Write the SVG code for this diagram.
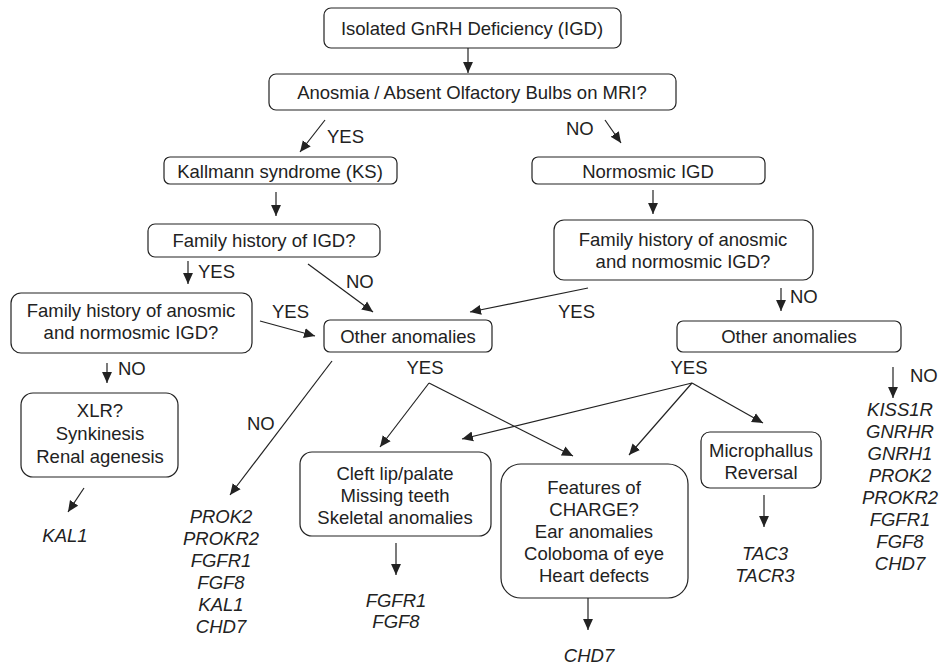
<svg xmlns="http://www.w3.org/2000/svg" width="939" height="666" viewBox="0 0 939 666">
<defs>
<style>
.box{fill:#fff;stroke:#222;stroke-width:1.2}
.t{font-family:"Liberation Sans",Arial,sans-serif;font-size:18.5px;fill:#222;text-anchor:middle}
.l{font-family:"Liberation Sans",Arial,sans-serif;font-size:18.5px;fill:#222}
.g{font-family:"Liberation Sans",Arial,sans-serif;font-size:18.5px;font-style:italic;fill:#222;text-anchor:middle}
.c{stroke:#222;stroke-width:1.2;fill:none;marker-end:url(#ah)}
</style>
<marker id="ah" markerUnits="userSpaceOnUse" markerWidth="11" markerHeight="11" refX="10" refY="5" orient="auto" viewBox="0 0 10 10">
<path d="M0,0.5 L10,5 L0,9.5 z" fill="#222"/>
</marker>
</defs>
<rect width="939" height="666" fill="#fff"/>

<g id="connectors">
<line class="c" x1="468" y1="48" x2="468" y2="73"/>
<line class="c" x1="325" y1="120" x2="300" y2="152"/>
<line class="c" x1="605" y1="120" x2="621" y2="143"/>
<line class="c" x1="276" y1="192" x2="276" y2="216"/>
<line class="c" x1="653" y1="190" x2="653" y2="214"/>
<line class="c" x1="188" y1="261" x2="188" y2="284"/>
<line class="c" x1="308" y1="264" x2="373" y2="312"/>
<line class="c" x1="588" y1="288" x2="470" y2="312"/>
<line class="c" x1="781" y1="288" x2="781" y2="311"/>
<line class="c" x1="260" y1="321" x2="315" y2="336"/>
<line class="c" x1="107" y1="363" x2="107" y2="383"/>
<line class="c" x1="332" y1="361" x2="230" y2="495"/>
<line class="c" x1="429" y1="383" x2="380" y2="447"/>
<line class="c" x1="429" y1="383" x2="573" y2="456"/>
<line class="c" x1="692" y1="383" x2="462" y2="439"/>
<line class="c" x1="692" y1="383" x2="629" y2="455"/>
<line class="c" x1="692" y1="383" x2="763" y2="423"/>
<line class="c" x1="893" y1="367" x2="893" y2="398"/>
<line class="c" x1="84" y1="488" x2="68" y2="512"/>
<line class="c" x1="396" y1="543" x2="396" y2="575"/>
<line class="c" x1="764" y1="495" x2="764" y2="527"/>
<line class="c" x1="588" y1="598" x2="588" y2="630"/>
</g>

<g id="labels">
<text class="l" x="327" y="143">YES</text>
<text class="l" x="566" y="135">NO</text>
<text class="l" x="198" y="278">YES</text>
<text class="l" x="346" y="288">NO</text>
<text class="l" x="558" y="318">YES</text>
<text class="l" x="790" y="303">NO</text>
<text class="l" x="272" y="318">YES</text>
<text class="l" x="118" y="375">NO</text>
<text class="l" x="247" y="430">NO</text>
<text class="t" x="425" y="374">YES</text>
<text class="t" x="689" y="374">YES</text>
<text class="l" x="910" y="382">NO</text>
</g>

<g id="n-igd">
<rect class="box" x="324" y="8" width="297" height="40" rx="7"/>
<text class="t" x="472" y="35">Isolated GnRH Deficiency (IGD)</text>
</g>
<g id="n-anosmia">
<rect class="box" x="269" y="74" width="407" height="36" rx="7"/>
<text class="t" x="472" y="99">Anosmia / Absent Olfactory Bulbs on MRI?</text>
</g>
<g id="n-ks">
<rect class="box" x="164" y="157" width="233" height="27" rx="6"/>
<text class="t" x="280" y="178">Kallmann syndrome (KS)</text>
</g>
<g id="n-normosmic">
<rect class="box" x="532" y="157" width="233" height="27" rx="6"/>
<text class="t" x="648" y="178">Normosmic IGD</text>
</g>
<g id="n-famhist-ks">
<rect class="box" x="148" y="224" width="232" height="33" rx="7"/>
<text class="t" x="264" y="247">Family history of IGD?</text>
</g>
<g id="n-famhist-right">
<rect class="box" x="554" y="220" width="259" height="60" rx="10"/>
<text class="t" x="683" y="246">Family history of anosmic</text>
<text class="t" x="683" y="268">and normosmic IGD?</text>
</g>
<g id="n-famhist-left">
<rect class="box" x="11" y="293" width="241" height="60" rx="10"/>
<text class="t" x="131" y="317">Family history of anosmic</text>
<text class="t" x="131" y="339">and normosmic IGD?</text>
</g>
<g id="n-other-left">
<rect class="box" x="324" y="320" width="168" height="32" rx="6"/>
<text class="t" x="408" y="343">Other anomalies</text>
</g>
<g id="n-other-right">
<rect class="box" x="677" y="321" width="224" height="31" rx="6"/>
<text class="t" x="789" y="343">Other anomalies</text>
</g>
<g id="n-xlr">
<rect class="box" x="21" y="393" width="157" height="84" rx="12"/>
<text class="t" x="100" y="417">XLR?</text>
<text class="t" x="100" y="440">Synkinesis</text>
<text class="t" x="100" y="463">Renal agenesis</text>
</g>
<g id="n-cleft">
<rect class="box" x="300" y="452" width="191" height="84" rx="12"/>
<text class="t" x="395" y="480">Cleft lip/palate</text>
<text class="t" x="395" y="502">Missing teeth</text>
<text class="t" x="395" y="524">Skeletal anomalies</text>
</g>
<g id="n-charge">
<rect class="box" x="501" y="464" width="187" height="134" rx="20"/>
<text class="t" x="594" y="494">Features of</text>
<text class="t" x="594" y="516">CHARGE?</text>
<text class="t" x="594" y="538">Ear anomalies</text>
<text class="t" x="594" y="560">Coloboma of eye</text>
<text class="t" x="594" y="582">Heart defects</text>
</g>
<g id="n-micro">
<rect class="box" x="701" y="432" width="120" height="56" rx="9"/>
<text class="t" x="761" y="457">Microphallus</text>
<text class="t" x="761" y="479">Reversal</text>
</g>

<g id="genes-kal1">
<text class="g" x="65" y="542">KAL1</text>
</g>
<g id="genes-mid">
<text class="g" x="221" y="523">PROK2</text>
<text class="g" x="221" y="545">PROKR2</text>
<text class="g" x="221" y="567">FGFR1</text>
<text class="g" x="221" y="589">FGF8</text>
<text class="g" x="221" y="611">KAL1</text>
<text class="g" x="221" y="633">CHD7</text>
</g>
<g id="genes-cleft">
<text class="g" x="396" y="607">FGFR1</text>
<text class="g" x="396" y="628">FGF8</text>
</g>
<g id="genes-charge">
<text class="g" x="589" y="662">CHD7</text>
</g>
<g id="genes-micro">
<text class="g" x="765" y="560">TAC3</text>
<text class="g" x="765" y="582">TACR3</text>
</g>
<g id="genes-right">
<text class="g" x="900" y="416">KISS1R</text>
<text class="g" x="900" y="438">GNRHR</text>
<text class="g" x="900" y="460">GNRH1</text>
<text class="g" x="900" y="482">PROK2</text>
<text class="g" x="900" y="504">PROKR2</text>
<text class="g" x="900" y="526">FGFR1</text>
<text class="g" x="900" y="548">FGF8</text>
<text class="g" x="900" y="570">CHD7</text>
</g>
</svg>
